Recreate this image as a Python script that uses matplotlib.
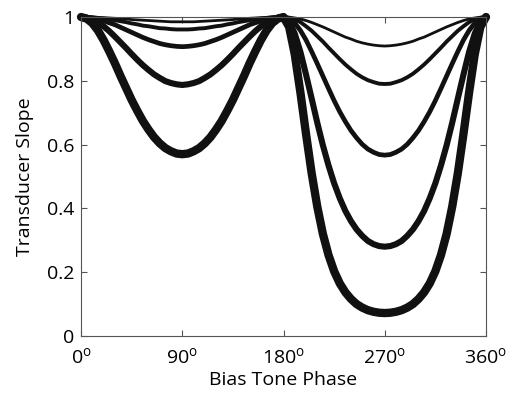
import matplotlib
matplotlib.use("Agg")
import matplotlib.pyplot as plt

plt.rcParams['font.family'] = ['Open Sans', 'DejaVu Sans']
plt.rcParams['mathtext.fontset'] = 'custom'
plt.rcParams['mathtext.rm'] = 'Open Sans'

# bias tone phase (degrees), every 5 degrees
phase = list(range(0, 361, 5))

# transducer slope, thinnest line to thickest
slope_1 = [1.000, 1.000, 1.000, 0.999, 0.998, 0.997, 0.996, 0.995, 0.994, 0.992, 0.991, 0.990,
           0.989, 0.988, 0.987, 0.986, 0.985, 0.985, 0.985, 0.985, 0.985, 0.986, 0.987, 0.988,
           0.989, 0.990, 0.991, 0.992, 0.994, 0.995, 0.996, 0.997, 0.998, 0.999, 1.000, 1.000,
           1.000, 0.999, 0.997, 0.994, 0.989, 0.983, 0.976, 0.969, 0.961, 0.953, 0.945, 0.937,
           0.931, 0.924, 0.919, 0.915, 0.912, 0.910, 0.909, 0.910, 0.912, 0.915, 0.919, 0.924,
           0.931, 0.937, 0.945, 0.953, 0.961, 0.969, 0.976, 0.983, 0.989, 0.994, 0.997, 0.999,
           1.000]
slope_2 = [1.000, 1.000, 0.999, 0.997, 0.995, 0.993, 0.990, 0.987, 0.984, 0.980, 0.977, 0.973,
           0.971, 0.968, 0.965, 0.964, 0.962, 0.961, 0.961, 0.961, 0.962, 0.964, 0.965, 0.968,
           0.971, 0.973, 0.977, 0.980, 0.984, 0.987, 0.990, 0.993, 0.995, 0.997, 0.999, 1.000,
           1.000, 0.998, 0.993, 0.984, 0.971, 0.957, 0.940, 0.923, 0.904, 0.886, 0.868, 0.851,
           0.836, 0.822, 0.811, 0.802, 0.796, 0.791, 0.790, 0.791, 0.796, 0.802, 0.811, 0.822,
           0.836, 0.851, 0.868, 0.886, 0.904, 0.923, 0.940, 0.957, 0.971, 0.984, 0.993, 0.998,
           1.000]
slope_3 = [1.000, 0.999, 0.997, 0.993, 0.988, 0.982, 0.976, 0.968, 0.960, 0.952, 0.944, 0.936,
           0.929, 0.923, 0.917, 0.913, 0.910, 0.908, 0.907, 0.908, 0.910, 0.913, 0.917, 0.923,
           0.929, 0.936, 0.944, 0.952, 0.960, 0.968, 0.976, 0.982, 0.988, 0.993, 0.997, 0.999,
           1.000, 0.995, 0.981, 0.958, 0.928, 0.892, 0.854, 0.815, 0.776, 0.738, 0.703, 0.672,
           0.644, 0.621, 0.601, 0.586, 0.576, 0.569, 0.567, 0.569, 0.576, 0.586, 0.601, 0.621,
           0.644, 0.672, 0.703, 0.738, 0.776, 0.815, 0.854, 0.892, 0.928, 0.958, 0.981, 0.995,
           1.000]
slope_4 = [1.000, 0.998, 0.992, 0.983, 0.971, 0.956, 0.939, 0.921, 0.903, 0.884, 0.866, 0.849,
           0.834, 0.820, 0.809, 0.799, 0.793, 0.789, 0.787, 0.789, 0.793, 0.799, 0.809, 0.820,
           0.834, 0.849, 0.866, 0.884, 0.903, 0.921, 0.939, 0.956, 0.971, 0.983, 0.992, 0.998,
           1.000, 0.987, 0.948, 0.891, 0.820, 0.745, 0.669, 0.598, 0.535, 0.479, 0.432, 0.392,
           0.360, 0.334, 0.314, 0.298, 0.288, 0.282, 0.280, 0.282, 0.288, 0.298, 0.314, 0.334,
           0.360, 0.392, 0.432, 0.479, 0.535, 0.598, 0.669, 0.745, 0.820, 0.891, 0.948, 0.987,
           1.000]
slope_5 = [1.000, 0.995, 0.981, 0.958, 0.928, 0.893, 0.856, 0.816, 0.778, 0.740, 0.706, 0.674,
           0.647, 0.623, 0.604, 0.589, 0.579, 0.572, 0.570, 0.572, 0.579, 0.589, 0.604, 0.623,
           0.647, 0.674, 0.706, 0.740, 0.778, 0.816, 0.856, 0.893, 0.928, 0.958, 0.981, 0.995,
           1.000, 0.969, 0.883, 0.764, 0.634, 0.511, 0.406, 0.320, 0.254, 0.203, 0.165, 0.137,
           0.116, 0.100, 0.089, 0.081, 0.076, 0.073, 0.072, 0.073, 0.076, 0.081, 0.089, 0.100,
           0.116, 0.137, 0.165, 0.203, 0.254, 0.320, 0.406, 0.511, 0.634, 0.764, 0.883, 0.969,
           1.000]

curves = [slope_1, slope_2, slope_3, slope_4, slope_5]
widths = [2.0, 2.8, 3.4, 4.4, 6.0]

xticks = [0, 90, 180, 270, 360]
xtick_labels = [r'$\mathregular{%d^{o}}$' % t for t in xticks]
yticks = [0, 0.2, 0.4, 0.6, 0.8, 1]
ytick_labels = ['0', '0.2', '0.4', '0.6', '0.8', '1']

fig = plt.figure(figsize=(5.2, 3.93), dpi=100)
ax = fig.add_axes([0.1558, 0.145, 0.7788, 0.8117])

for ys, lw in zip(curves, widths):
    ax.plot(phase, ys, color='#111111', lw=lw, solid_joinstyle='round',
            solid_capstyle='round', clip_on=False)

ax.set_xlim(0, 360)
ax.set_ylim(0, 1)
ax.set_xticks(xticks)
ax.set_xticklabels(xtick_labels)
ax.set_yticks(yticks)
ax.set_yticklabels(ytick_labels)

for s in ax.spines.values():
    s.set_color('#555555')
    s.set_linewidth(0.8)
ax.tick_params(direction='in', length=4, width=0.8, color='#555555',
               top=True, right=True, labelsize=14)
ax.tick_params(axis='x', pad=8)
ax.tick_params(axis='y', pad=5)

ax.set_xlabel('Bias Tone Phase', fontsize=14, labelpad=3)
ax.set_ylabel('Transducer Slope', fontsize=14, labelpad=9)

fig.savefig('out.png', dpi=100)
